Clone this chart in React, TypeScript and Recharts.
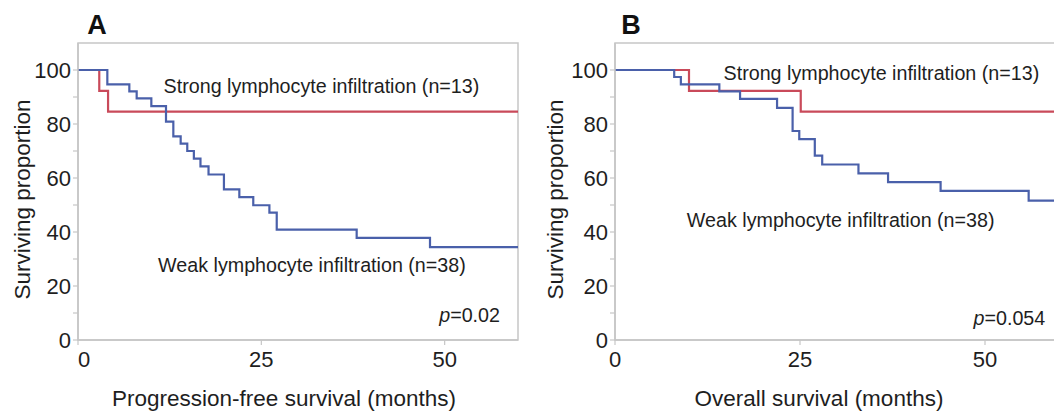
import React from 'react';
import { LineChart, Line, XAxis, YAxis, ReferenceArea, ReferenceDot } from 'recharts';

const FONT = '"Liberation Sans", Arial, Helvetica, sans-serif';
const TEXT = '#1e1e1e';
const FRAME = '#c6c6c6';
const RED = '#c94a5a';
const BLUE = '#4a60aa';

// Panel A: progression-free survival
const pfsWeakMonths = [0, 4, 7, 8, 10, 12, 13, 14, 14.9, 15.8, 16.7, 17.8, 19.9, 22, 23.9, 26.1, 27.1, 38, 48, 60];
const pfsWeakSurv = [100, 94.7, 92.1, 89.5, 86.6, 80.9, 75.4, 72.7, 70.0, 67.2, 64.3, 61.3, 55.8, 52.9, 49.9, 47.2, 40.9, 37.8, 34.4, 34.4];
const pfsStrongMonths = [0, 2.9, 4.1, 60];
const pfsStrongSurv = [100, 92.3, 84.6, 84.6];

// Panel B: overall survival
const osWeakMonths = [0, 8, 8.9, 14.1, 16.9, 21.9, 24, 24.9, 27, 28, 32.9, 36.9, 44, 55.9, 60];
const osWeakSurv = [100, 97.4, 94.7, 92.1, 89.3, 86.0, 77.4, 74.4, 68.3, 65.0, 61.7, 58.5, 55.2, 51.6, 51.6];
const osStrongMonths = [0, 10, 25.1, 60];
const osStrongSurv = [100, 92.3, 84.6, 84.6];

const yTicks = [0, 10, 20, 30, 40, 50, 60, 70, 80, 90, 100];
const xTicks = [0, 25, 50];

const strongLabel = 'Strong lymphocyte infiltration (n=13)';
const weakLabel = 'Weak lymphocyte infiltration (n=38)';

const toRows = (t: number[], s: number[]) => t.map((m, i) => ({ month: m, surv: s[i] }));

const note = (text: string) => (props: any) => {
  const vb = props.viewBox || {};
  const x = (vb.x || 0) + (vb.width || 0) / 2;
  const y = (vb.y || 0) + (vb.height || 0) / 2;
  return (
    <text x={x} y={y} textAnchor="middle" dominantBaseline="central" fontSize={19.7} fill={TEXT} fontFamily={FONT}>
      {text}
    </text>
  );
};

const pNote = (value: string) => (props: any) => {
  const vb = props.viewBox || {};
  const x = (vb.x || 0) + (vb.width || 0) / 2;
  const y = (vb.y || 0) + (vb.height || 0) / 2;
  return (
    <text x={x} y={y} textAnchor="middle" dominantBaseline="central" fontSize={19.7} fill={TEXT} fontFamily={FONT}>
      <tspan fontStyle="italic">p</tspan>
      {value}
    </text>
  );
};

const makeXTick = (zeroShift: number) => (props: any) => {
  const { x, y, payload } = props;
  const v = payload.value;
  const dx = v === 0 ? zeroShift : 0;
  return (
    <text x={x + dx} y={y} dy="0.71em" textAnchor="middle" fontSize={22} fill={TEXT} fontFamily={FONT}>
      {String(v)}
    </text>
  );
};

type PanelProps = {
  left: number;
  width: number;
  marginLeft: number;
  marginRight: number;
  yLabelOffset: number;
  xLabel: string;
  xLabelDx: number;
  zeroShift: number;
  weak: { month: number; surv: number }[];
  strong: { month: number; surv: number }[];
  strongPos: [number, number];
  weakPos: [number, number];
  pPos: [number, number];
  pValue: string;
};

function Panel(p: PanelProps) {
  return (
    <div style={{ position: 'absolute', left: p.left, top: 0 }}>
      <LineChart
        width={p.width}
        height={414}
        margin={{ top: 43, right: p.marginRight, bottom: 0, left: p.marginLeft }}
      >
        <XAxis
          dataKey="month"
          type="number"
          domain={[0, 60]}
          ticks={xTicks}
          allowDataOverflow
          height={74}
          tickSize={5}
          tickMargin={6}
          axisLine={{ stroke: FRAME, strokeWidth: 1.5 }}
          tickLine={{ stroke: FRAME, strokeWidth: 1.2 }}
          tick={makeXTick(p.zeroShift)}
          label={{
            value: p.xLabel,
            position: 'insideBottom',
            offset: 8,
            dx: p.xLabelDx,
            fontSize: 22.5,
            fill: TEXT,
            fontFamily: FONT,
          }}
        />
        <YAxis
          dataKey="surv"
          type="number"
          domain={[0, 110]}
          ticks={yTicks}
          allowDataOverflow
          width={60}
          tickSize={5}
          tickMargin={2}
          axisLine={{ stroke: FRAME, strokeWidth: 1.5 }}
          tickLine={{ stroke: FRAME, strokeWidth: 1.2 }}
          tickFormatter={(v: number) => (v % 20 === 0 ? String(v) : '')}
          tick={{ fill: TEXT, fontSize: 22, fontFamily: FONT }}
          label={{
            value: 'Surviving proportion',
            angle: -90,
            position: 'insideLeft',
            offset: p.yLabelOffset,
            dy: 8,
            fontSize: 22.5,
            fill: TEXT,
            fontFamily: FONT,
            style: { textAnchor: 'middle' },
          }}
        />
        <ReferenceArea x1={0} x2={60} y1={0} y2={110} fill="none" stroke={FRAME} strokeWidth={1.5} />
        <Line
          data={p.strong}
          dataKey="surv"
          type="stepAfter"
          stroke={RED}
          strokeWidth={2.2}
          dot={false}
          isAnimationActive={false}
        />
        <Line
          data={p.weak}
          dataKey="surv"
          type="stepAfter"
          stroke={BLUE}
          strokeWidth={2.2}
          dot={false}
          isAnimationActive={false}
        />
        <ReferenceDot x={p.strongPos[0]} y={p.strongPos[1]} r={0} fill="none" stroke="none" label={note(strongLabel)} />
        <ReferenceDot x={p.weakPos[0]} y={p.weakPos[1]} r={0} fill="none" stroke="none" label={note(weakLabel)} />
        <ReferenceDot x={p.pPos[0]} y={p.pPos[1]} r={0} fill="none" stroke="none" label={pNote(p.pValue)} />
      </LineChart>
    </div>
  );
}

export default function App() {
  return (
    <div
      style={{
        position: 'absolute',
        left: 0,
        top: 0,
        width: 1054,
        height: 414,
        overflow: 'hidden',
        background: '#fff',
        fontFamily: FONT,
      }}
    >
      <Panel
        left={0}
        width={530}
        marginLeft={18}
        marginRight={12}
        yLabelOffset={4}
        xLabel="Progression-free survival (months)"
        xLabelDx={-14}
        zeroShift={6}
        weak={toRows(pfsWeakMonths, pfsWeakSurv)}
        strong={toRows(pfsStrongMonths, pfsStrongSurv)}
        strongPos={[33.2, 94.1]}
        weakPos={[31.9, 27.7]}
        pPos={[53.4, 9.2]}
        pValue="=0.02"
      />
      <Panel
        left={530}
        width={545}
        marginLeft={25}
        marginRight={16}
        yLabelOffset={0}
        xLabel="Overall survival (months)"
        xLabelDx={-18}
        zeroShift={0}
        weak={toRows(osWeakMonths, osWeakSurv)}
        strong={toRows(osStrongMonths, osStrongSurv)}
        strongPos={[36.0, 99.0]}
        weakPos={[30.5, 44.3]}
        pPos={[53.3, 8.0]}
        pValue="=0.054"
      />
      <svg width={1054} height={414} style={{ position: 'absolute', left: 0, top: 0, pointerEvents: 'none' }}>
        <text x={97} y={34} textAnchor="middle" fontSize={27} fontWeight="bold" fill="#111" fontFamily={FONT}>
          A
        </text>
        <text x={631} y={34} textAnchor="middle" fontSize={27} fontWeight="bold" fill="#111" fontFamily={FONT}>
          B
        </text>
      </svg>
    </div>
  );
}
